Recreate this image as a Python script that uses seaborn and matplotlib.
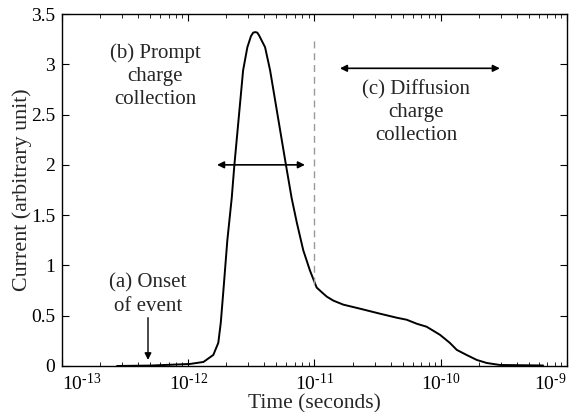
import numpy as np
import pandas as pd
import matplotlib
matplotlib.use("Agg")
import matplotlib.pyplot as plt
from matplotlib.ticker import LogLocator, FixedLocator, FuncFormatter, NullLocator
import seaborn as sns

# Single-event current pulse: time (s) vs current (arbitrary unit)
time_s = [2.73e-13, 4.98e-13, 1.03e-12, 1.32e-12, 1.58e-12, 1.73e-12, 1.81e-12,
          1.90e-12, 2.04e-12, 2.21e-12, 2.32e-12, 2.72e-12, 2.94e-12, 3.14e-12,
          3.27e-12, 3.40e-12, 3.52e-12, 3.63e-12, 4.06e-12, 4.45e-12, 5.94e-12,
          6.59e-12, 7.26e-12, 8.15e-12, 9.20e-12, 1.04e-11, 1.15e-11, 1.25e-11,
          1.41e-11, 1.69e-11, 2.29e-11, 3.30e-11, 4.48e-11, 5.37e-11, 6.46e-11,
          7.74e-11, 9.86e-11, 1.18e-10, 1.34e-10, 1.60e-10, 1.93e-10, 2.31e-10,
          2.94e-10, 6.46e-10]
current = [0.0, 0.004, 0.02, 0.04, 0.11, 0.23, 0.43,
           0.755, 1.25, 1.67, 2.00, 2.94, 3.17, 3.28,
           3.315, 3.32, 3.315, 3.29, 3.17, 2.94, 2.00,
           1.67, 1.42, 1.15, 0.95, 0.78, 0.73, 0.69,
           0.65, 0.61, 0.57, 0.52, 0.48, 0.46, 0.42,
           0.39, 0.31, 0.23, 0.16, 0.11, 0.06, 0.03,
           0.01, 0.005]

x_ticks = [1e-13, 1e-12, 1e-11, 1e-10, 1e-9]
y_ticks = [0, 0.5, 1, 1.5, 2, 2.5, 3, 3.5]

# Phase boundary and annotation anchors
boundary_t = 1.0e-11
prompt_span = (1.69e-12, 8.4e-12)
prompt_y = 2.0
diffusion_span = (1.59e-11, 2.94e-10)
diffusion_y = 2.96
onset_t = 4.8e-13

sns.set_style("ticks")
plt.rcParams["font.family"] = ["Liberation Serif", "DejaVu Serif"]
plt.rcParams["mathtext.fontset"] = "custom"
plt.rcParams["mathtext.rm"] = "Liberation Serif"
plt.rcParams["mathtext.it"] = "Liberation Serif:italic"

df = pd.DataFrame({"time": time_s, "current": current})

fig = plt.figure(figsize=(5.81, 4.12), dpi=100)
ax = fig.add_axes([0.1067, 0.1117, 0.8692, 0.8543])

sns.lineplot(data=df, x="time", y="current", ax=ax, color="black",
             linewidth=1.4, sort=False)

ax.set_xscale("log")
ax.set_xlim(x_ticks[0], x_ticks[-1])
ax.set_ylim(y_ticks[0], y_ticks[-1])


def decade_label(v, pos):
    return r"$10^{\text{-}%d}$" % abs(round(np.log10(v)))


ax.xaxis.set_major_locator(FixedLocator(x_ticks))
ax.xaxis.set_major_formatter(FuncFormatter(decade_label))
ax.xaxis.set_minor_locator(LogLocator(base=10, subs=np.arange(2, 10), numticks=50))
ax.yaxis.set_major_locator(FixedLocator(y_ticks))
ax.yaxis.set_minor_locator(NullLocator())
ax.yaxis.set_major_formatter(FuncFormatter(lambda v, p: f"{v:g}"))

ax.tick_params(which="both", direction="in", top=True, right=True, colors="black")
ax.tick_params(axis="y", labelsize=14)
ax.tick_params(axis="x", labelsize=14)
ax.tick_params(which="major", length=5, width=0.8, pad=5)
ax.tick_params(which="minor", length=3, width=0.6)
for s in ax.spines.values():
    s.set_linewidth(1.0)
    s.set_color("black")

# keep the end labels inside the frame
xt = ax.xaxis.get_major_ticks()
xt[0].label1.set_horizontalalignment("left")
xt[-1].label1.set_horizontalalignment("right")

ax.set_xlabel("Time (seconds)", fontsize=15.5, labelpad=0)
ax.set_ylabel("Current (arbitrary unit)", fontsize=15.8, labelpad=-1)

# Boundary between prompt and diffusion collection
ax.plot([boundary_t, boundary_t], [0.82, 3.24], color="#999999",
        linestyle=(0, (5, 3.5)), linewidth=1.0)

arrow_kw = dict(arrowstyle="<|-|>", color="black", lw=1.2,
                mutation_scale=10, shrinkA=0, shrinkB=0)
ax.annotate("", xy=(prompt_span[1], prompt_y), xytext=(prompt_span[0], prompt_y),
            arrowprops=arrow_kw)
ax.annotate("", xy=(diffusion_span[1], diffusion_y),
            xytext=(diffusion_span[0], diffusion_y), arrowprops=arrow_kw)
ax.annotate("", xy=(onset_t, 0.06), xytext=(onset_t, 0.48),
            arrowprops=dict(arrowstyle="-|>", color="black", lw=1.0,
                            mutation_scale=10, shrinkA=0, shrinkB=0))

text_kw = dict(ha="center", va="center", fontsize=15, linespacing=1.3)
ax.text(5.5e-13, 2.88, "(b) Prompt\ncharge\ncollection", **text_kw)
ax.text(6.4e-11, 2.52, "(c) Diffusion\ncharge\ncollection", **text_kw)
ax.text(4.8e-13, 0.71, "(a) Onset\nof event", **text_kw)

fig.savefig("out.png", dpi=100)
